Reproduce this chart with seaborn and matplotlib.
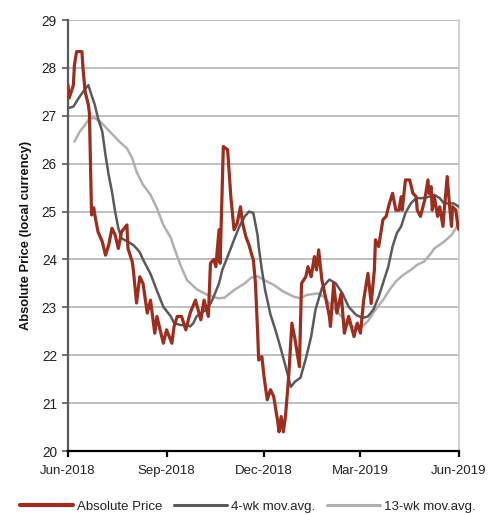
import matplotlib
matplotlib.use("Agg")
import matplotlib.pyplot as plt
import matplotlib.dates as mdates
import seaborn as sns
import pandas as pd

price_dates = [
    "2018-06-01", "2018-06-02", "2018-06-04", "2018-06-06", "2018-06-07", "2018-06-09",
    "2018-06-14", "2018-06-15", "2018-06-17", "2018-06-20", "2018-06-21", "2018-06-23",
    "2018-06-25", "2018-06-26", "2018-06-29", "2018-07-03", "2018-07-06", "2018-07-09",
    "2018-07-12", "2018-07-15", "2018-07-18", "2018-07-21", "2018-07-26", "2018-07-27",
    "2018-07-31", "2018-08-01", "2018-08-04", "2018-08-07", "2018-08-10", "2018-08-14",
    "2018-08-17", "2018-08-21", "2018-08-23", "2018-08-29", "2018-09-01", "2018-09-06",
    "2018-09-08", "2018-09-11", "2018-09-15", "2018-09-19", "2018-09-23", "2018-09-28",
    "2018-10-03", "2018-10-06", "2018-10-10", "2018-10-12", "2018-10-15", "2018-10-17",
    "2018-10-20", "2018-10-21", "2018-10-24", "2018-10-28", "2018-10-31", "2018-11-03",
    "2018-11-06", "2018-11-09", "2018-11-11", "2018-11-14", "2018-11-17", "2018-11-20",
    "2018-11-21", "2018-11-23", "2018-11-25", "2018-11-26", "2018-11-29", "2018-12-01",
    "2018-12-04", "2018-12-07", "2018-12-10", "2018-12-14", "2018-12-15", "2018-12-17",
    "2018-12-19", "2018-12-21", "2018-12-24", "2018-12-27", "2018-12-30", "2019-01-03",
    "2019-01-05", "2019-01-09", "2019-01-11", "2019-01-14", "2019-01-17", "2019-01-19",
    "2019-01-21", "2019-01-24", "2019-01-28", "2019-01-31", "2019-02-01", "2019-02-04",
    "2019-02-07", "2019-02-11", "2019-02-14", "2019-02-18", "2019-02-23", "2019-02-26",
    "2019-03-01", "2019-03-04", "2019-03-08", "2019-03-11", "2019-03-14", "2019-03-15",
    "2019-03-18", "2019-03-22", "2019-03-25", "2019-03-28", "2019-03-31", "2019-04-03",
    "2019-04-06", "2019-04-08", "2019-04-09", "2019-04-12", "2019-04-16", "2019-04-19",
    "2019-04-22", "2019-04-23", "2019-04-26", "2019-04-30", "2019-05-03", "2019-05-04",
    "2019-05-06", "2019-05-07", "2019-05-09", "2019-05-12", "2019-05-14", "2019-05-17",
    "2019-05-18", "2019-05-21", "2019-05-23", "2019-05-25", "2019-05-26", "2019-05-29",
    "2019-05-31", "2019-06-01",
]
price_values = [
    27.64, 27.37, 27.50, 27.64, 28.06, 28.34,
    28.34, 27.99, 27.50, 27.23, 27.05, 24.93,
    25.08, 24.93, 24.58, 24.37, 24.09, 24.30,
    24.65, 24.51, 24.23, 24.58, 24.72, 24.23,
    23.95, 23.78, 23.09, 23.64, 23.50, 22.88,
    23.15, 22.46, 22.81, 22.25, 22.53, 22.25,
    22.60, 22.81, 22.81, 22.53, 22.88, 23.15,
    22.74, 23.15, 22.81, 23.92, 24.00, 23.85,
    24.62, 23.92, 26.36, 26.29, 25.31, 24.62,
    24.76, 25.10, 24.76, 24.48, 24.30, 24.06,
    24.00, 23.50, 22.50, 21.90, 21.97, 21.55,
    21.07, 21.28, 21.14, 20.58, 20.40, 20.72,
    20.40, 20.72, 21.55, 22.67, 22.32, 21.76,
    23.50, 23.64, 23.85, 23.64, 24.06, 23.78,
    24.20, 23.57, 23.15, 22.81, 22.60, 23.50,
    22.88, 23.29, 22.46, 22.81, 22.39, 22.67,
    22.46, 23.15, 23.71, 23.08, 23.78, 24.41,
    24.27, 24.83, 24.90, 25.17, 25.38, 25.03,
    25.03, 25.31, 25.03, 25.66, 25.66, 25.38,
    25.31, 25.03, 24.90, 25.24, 25.66, 25.38,
    25.52, 25.03, 25.31, 24.90, 25.10, 24.69,
    24.97, 25.73, 25.17, 24.69, 25.10, 25.03,
    24.69, 24.62,
]

ma4_dates = [
    "2018-06-01", "2018-06-06", "2018-06-11", "2018-06-15", "2018-06-20", "2018-06-23",
    "2018-06-26", "2018-06-29", "2018-07-03", "2018-07-06", "2018-07-09", "2018-07-12",
    "2018-07-15", "2018-07-18", "2018-07-21", "2018-07-27", "2018-08-01", "2018-08-04",
    "2018-08-07", "2018-08-10", "2018-08-17", "2018-08-23", "2018-08-29", "2018-09-05",
    "2018-09-08", "2018-09-14", "2018-09-20", "2018-09-23", "2018-09-26", "2018-09-29",
    "2018-10-03", "2018-10-08", "2018-10-12", "2018-10-15", "2018-10-20", "2018-10-23",
    "2018-10-28", "2018-11-03", "2018-11-08", "2018-11-13", "2018-11-17", "2018-11-21",
    "2018-11-25", "2018-11-26", "2018-11-29", "2018-12-02", "2018-12-07", "2018-12-12",
    "2018-12-17", "2018-12-22", "2018-12-26", "2018-12-30", "2019-01-04", "2019-01-09",
    "2019-01-14", "2019-01-18", "2019-01-24", "2019-01-31", "2019-02-06", "2019-02-12",
    "2019-02-18", "2019-02-25", "2019-03-03", "2019-03-08", "2019-03-13", "2019-03-18",
    "2019-03-22", "2019-03-27", "2019-03-31", "2019-04-04", "2019-04-08", "2019-04-12",
    "2019-04-17", "2019-04-22", "2019-04-28", "2019-05-04", "2019-05-09", "2019-05-14",
    "2019-05-18", "2019-05-23", "2019-05-27", "2019-06-01",
]
ma4_values = [
    27.16, 27.19, 27.37, 27.50, 27.64, 27.43,
    27.23, 26.95, 26.67, 26.18, 25.76, 25.42,
    25.00, 24.65, 24.44, 24.37, 24.30, 24.23,
    24.15, 24.00, 23.70, 23.35, 23.01, 22.81,
    22.67, 22.63, 22.63, 22.60, 22.67, 22.81,
    22.88, 22.95, 23.08, 23.22, 23.50, 23.78,
    24.06, 24.41, 24.69, 24.90, 25.00, 24.97,
    24.50, 24.27, 23.78, 23.36, 22.85, 22.50,
    22.11, 21.69, 21.34, 21.45, 21.53, 21.93,
    22.39, 22.95, 23.40, 23.58, 23.50, 23.30,
    23.01, 22.84, 22.78, 22.81, 22.95, 23.22,
    23.50, 23.85, 24.27, 24.55, 24.69, 24.97,
    25.17, 25.28, 25.28, 25.31, 25.35, 25.28,
    25.17, 25.17, 25.17, 25.10,
]

ma13_dates = [
    "2018-06-07", "2018-06-12", "2018-06-17", "2018-06-21", "2018-06-26", "2018-07-01",
    "2018-07-07", "2018-07-13", "2018-07-19", "2018-07-26", "2018-07-31", "2018-08-04",
    "2018-08-10", "2018-08-17", "2018-08-23", "2018-08-29", "2018-09-05", "2018-09-08",
    "2018-09-14", "2018-09-20", "2018-09-29", "2018-10-09", "2018-10-19", "2018-10-25",
    "2018-11-03", "2018-11-13", "2018-11-19", "2018-11-25", "2018-12-01", "2018-12-10",
    "2018-12-19", "2018-12-29", "2019-01-04", "2019-01-10", "2019-01-20", "2019-01-26",
    "2019-02-01", "2019-02-07", "2019-02-13", "2019-02-19", "2019-02-26", "2019-03-03",
    "2019-03-09", "2019-03-15", "2019-03-22", "2019-03-28", "2019-04-03", "2019-04-10",
    "2019-04-17", "2019-04-23", "2019-04-29", "2019-05-06", "2019-05-09", "2019-05-18",
    "2019-05-25", "2019-05-29", "2019-06-01",
]
ma13_values = [
    26.46, 26.67, 26.81, 26.95, 26.95, 26.88,
    26.74, 26.60, 26.46, 26.32, 26.11, 25.83,
    25.56, 25.35, 25.07, 24.72, 24.45, 24.25,
    23.88, 23.57, 23.38, 23.26, 23.19, 23.20,
    23.36, 23.50, 23.62, 23.65, 23.57, 23.47,
    23.33, 23.22, 23.19, 23.26, 23.29, 23.22,
    23.05, 22.91, 22.77, 22.63, 22.56, 22.60,
    22.74, 22.95, 23.15, 23.36, 23.54, 23.68,
    23.78, 23.89, 23.95, 24.13, 24.23, 24.37,
    24.51, 24.65, 24.76,
]

series_names = ["Absolute Price", "4-wk mov.avg.", "13-wk mov.avg."]
x_ticks = ["2018-06-01", "2018-09-01", "2018-12-01", "2019-03-01", "2019-06-01"]
y_ticks = [20, 21, 22, 23, 24, 25, 26, 27, 28, 29]
y_label = "Absolute Price (local currency)"

colors = ["#9a2e1f", "#5a5a5a", "#b0b0b0"]
widths = [2.3, 1.8, 1.8]

sns.set_theme(style="white")
plt.rcParams["font.family"] = ["Liberation Sans", "DejaVu Sans"]

frames = []
for name, d, v in zip(series_names, [price_dates, ma4_dates, ma13_dates],
                      [price_values, ma4_values, ma13_values]):
    frames.append(pd.DataFrame({"date": pd.to_datetime(d), "value": v, "series": name}))
df = pd.concat(frames, ignore_index=True)

fig = plt.figure(figsize=(4.88, 5.14), dpi=100)
ax = fig.add_axes([68 / 488, 1 - 451 / 514, (459 - 68) / 488, (451 - 20) / 514])

for name, c, lw in zip(series_names[::-1], colors[::-1], widths[::-1]):
    sub = df[df["series"] == name]
    sns.lineplot(data=sub, x="date", y="value", ax=ax, color=c, linewidth=lw,
                 label=name, zorder=3)

ax.set_xlim(pd.Timestamp(x_ticks[0]), pd.Timestamp(x_ticks[-1]))
ax.set_ylim(y_ticks[0], y_ticks[-1])
ax.set_yticks(y_ticks)
ax.set_xticks(pd.to_datetime(x_ticks))
ax.xaxis.set_major_formatter(mdates.DateFormatter("%b-%Y"))
ax.grid(axis="y", color="#b4b4b4", linewidth=1.2, zorder=0)
ax.grid(axis="x", visible=False)
ax.set_axisbelow(True)

ax.spines["top"].set_visible(False)
ax.spines["right"].set_color("#c8c8c8")
ax.spines["right"].set_linewidth(1.2)
ax.spines["left"].set_color("#5a5a5a")
ax.spines["left"].set_linewidth(1.6)
ax.spines["bottom"].set_color("#000000")
ax.spines["bottom"].set_linewidth(1.6)

ax.tick_params(axis="y", direction="out", length=4, width=1.2, color="#5a5a5a",
               labelsize=9.8, labelcolor="#222222", pad=4, left=True)
ax.tick_params(axis="x", direction="out", length=4, width=1.6, color="#000000",
               labelsize=9.5, labelcolor="#222222", pad=6, bottom=True)

ax.set_xlabel("")
ax.set_ylabel(y_label, fontsize=9.3, fontweight="bold", color="#111111", labelpad=7)

handles, labels = ax.get_legend_handles_labels()
order = [labels.index(n) for n in series_names]
ax.get_legend().remove()
leg = fig.legend([handles[i] for i in order], [labels[i] for i in order],
                 loc="center", bbox_to_anchor=(0.508, 0.014), ncol=3, frameon=False,
                 fontsize=9.5, handlelength=4.0, columnspacing=0.9, handletextpad=0.3,
                 borderpad=0, borderaxespad=0)
for t in leg.get_texts():
    t.set_color("#222222")
for h, lw in zip(leg.get_lines(), [3.0, 2.2, 2.2]):
    h.set_linewidth(lw)

fig.savefig("out.png", dpi=100)
